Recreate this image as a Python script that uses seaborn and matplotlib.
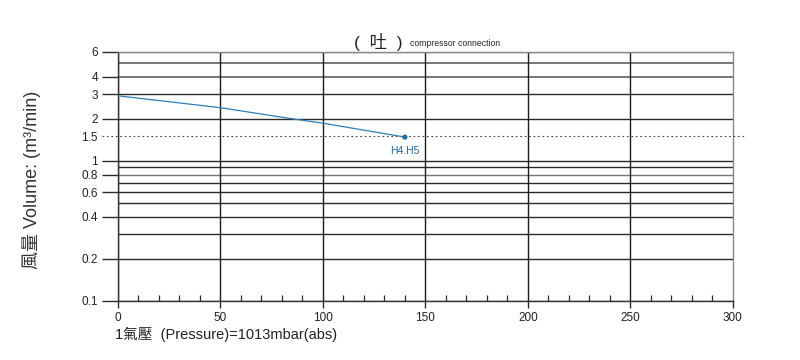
import matplotlib
matplotlib.use("Agg")
import matplotlib.pyplot as plt
import matplotlib.ticker as mticker
import seaborn as sns
import pandas as pd

# data
pressure = [0, 50, 85, 100, 140]
volume = [2.92, 2.40, 2.00, 1.86, 1.48]
end_label = "H4.H5"
grid_levels = [6, 5, 4, 3, 2, 1, 0.9, 0.8, 0.7, 0.6, 0.5, 0.4, 0.3, 0.2, 0.1]
ytick_vals = [6, 4, 3, 2, 1.5, 1, 0.8, 0.6, 0.4, 0.2, 0.1]
ytick_labels = ["6", "4", "3", "2", "1.5", "1", "0.8", "0.6", "0.4", "0.2", "0.1"]
xtick_vals = [0, 50, 100, 150, 200, 250, 300]
ref_level = 1.5

sns.set_style("white")
plt.rcParams["font.family"] = ["Liberation Sans", "Noto Sans CJK TC", "DejaVu Sans"]

fig = plt.figure(figsize=(8, 3.6), dpi=100)
ax = fig.add_axes([0.1475, 0.164, 0.7685, 0.6916])

df = pd.DataFrame({"p": pressure, "v": volume})
line_color = "#2f7fb5"
sns.lineplot(data=df, x="p", y="v", ax=ax, color=line_color, lw=0.9, zorder=5)
sns.scatterplot(x=[pressure[-1]], y=[volume[-1]], ax=ax, color="#1f6aa5", s=14,
                edgecolor="none", zorder=6)
ax.annotate(end_label, (pressure[-1], volume[-1]), xytext=(0, -10),
            textcoords="offset points", ha="center", va="center",
            fontsize=7.5, color="#1f6aa5")

ax.set_yscale("log")
ax.set_xlim(0, 300)
ax.set_ylim(0.1, 6)

for lv in grid_levels:
    c = "#777777" if lv in (6, 5, 4, 0.8) else "#2a2a2a"
    lw = 1.4 if lv in (5, 4) else 1.0
    ax.axhline(lv, color=c, lw=lw, zorder=2)

ax.axhline(ref_level, xmin=-0.026, xmax=1.02, color="#444444", lw=0.8,
           ls=(0, (1.5, 2.5)), clip_on=False, zorder=3)

ax.yaxis.set_major_locator(mticker.FixedLocator(ytick_vals))
ax.yaxis.set_major_formatter(mticker.FixedFormatter(ytick_labels))
ax.yaxis.set_minor_locator(mticker.NullLocator())
ax.tick_params(axis="y", which="major", length=11.5, width=1.0, color="#2a2a2a",
               direction="out", pad=3, labelsize=8.5, labelcolor="#222222", left=True)
for t, v in zip(ax.yaxis.get_major_ticks(), ytick_vals):
    if v == ref_level:
        t.tick1line.set_visible(False)

ax.set_xticks(xtick_vals)
ax.xaxis.set_minor_locator(mticker.MultipleLocator(10))
ax.tick_params(axis="x", which="major", length=5, width=1.0, color="#2a2a2a",
               direction="out", pad=3, labelsize=8.5, labelcolor="#222222", bottom=True)
ax.tick_params(axis="x", which="minor", length=4, width=0.9, color="#2a2a2a",
               direction="in", bottom=True)
for xv in xtick_vals[:-1]:
    ax.axvline(xv, color="#1a1a1a", lw=1.0, zorder=2)

for side, col in [("left", "#333333"), ("bottom", "#333333"),
                  ("right", "#888888"), ("top", "#888888")]:
    ax.spines[side].set_visible(True)
    ax.spines[side].set_color(col)
    ax.spines[side].set_linewidth(1.0)

ax.set_xlabel("")
ax.set_ylabel("")

fig.text(0.04, 0.5, "風量 Volume: (m³/min)", rotation=90, ha="center",
         va="center", fontsize=13, color="#333333")
fig.text(0.144, 0.072, "1氣壓  (Pressure)=1013mbar(abs)", ha="left",
         va="center", fontsize=10.5, color="#222222")
fig.text(0.442, 0.882, "(  吐  )", ha="left", va="center", fontsize=12.5,
         color="#222222")
fig.text(0.513, 0.879, "compressor connection", ha="left", va="center",
         fontsize=6.2, color="#222222")

fig.savefig("out.png", dpi=100)
